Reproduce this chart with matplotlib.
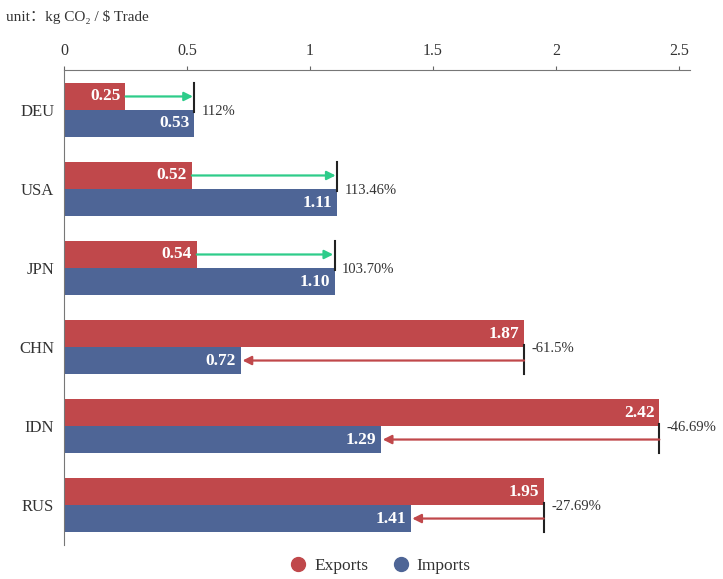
import matplotlib.pyplot as plt
from matplotlib.lines import Line2D

plt.rcParams["font.family"] = ["Liberation Serif", "DejaVu Serif"]

countries = ["DEU", "USA", "JPN", "CHN", "IDN", "RUS"]
exports = [0.25, 0.52, 0.54, 1.87, 2.42, 1.95]
imports = [0.53, 1.11, 1.10, 0.72, 1.29, 1.41]
change_labels = ["112%", "113.46%", "103.70%", "-61.5%", "-46.69%", "-27.69%"]

RED = "#C0484B"
BLUE = "#4E6596"
GREEN = "#2ECC8A"
TEXT = "#333333"

fig = plt.figure(figsize=(7.23, 5.79), dpi=100)
ax = fig.add_axes([0.0885, 0.0587, 0.866, 0.8204])

h = 0.342
y = list(range(len(countries)))
ax.barh([i - h / 2 for i in y], exports, height=h, color=RED)
ax.barh([i + h / 2 for i in y], imports, height=h, color=BLUE)

for i, (e, m, lab) in enumerate(zip(exports, imports, change_labels)):
    ax.text(e - 0.02, i - h / 2, f"{e:.2f}", ha="right", va="center",
            color="white", fontsize=12.5, fontweight="bold")
    ax.text(m - 0.02, i + h / 2, f"{m:.2f}", ha="right", va="center",
            color="white", fontsize=12.5, fontweight="bold")
    if m > e:
        # growth: arrow along export bar to the import value
        ax.annotate("", xy=(m, i - h / 2), xytext=(e, i - h / 2),
                    arrowprops=dict(arrowstyle="-|>", color=GREEN, lw=1.6,
                                    mutation_scale=13, shrinkA=0, shrinkB=1))
        ax.plot([m, m], [i - h, i + 0.03], color="#222222", lw=1.5)
        ax.text(m + 0.03, i + 0.02, lab, ha="left", va="center", color=TEXT, fontsize=10.5)
    else:
        ax.annotate("", xy=(m, i + h / 2), xytext=(e, i + h / 2),
                    arrowprops=dict(arrowstyle="-|>", color=RED, lw=1.6,
                                    mutation_scale=13, shrinkA=0, shrinkB=1))
        ax.plot([e, e], [i - 0.03, i + h], color="#222222", lw=1.5)
        ax.text(e + 0.03, i + 0.02, lab, ha="left", va="center", color=TEXT, fontsize=10.5)

ax.set_xlim(0, 2.545)
ax.set_ylim(5.506, -0.506)
ax.xaxis.tick_top()
ax.set_xticks([0, 0.5, 1, 1.5, 2, 2.5])
ax.set_xticklabels(["0", "0.5", "1", "1.5", "2", "2.5"])
ax.tick_params(axis="x", direction="out", length=3, color="#666666",
               labelsize=11.5, labelcolor=TEXT, pad=5)
ax.set_yticks(y)
ax.set_yticklabels(countries)
ax.tick_params(axis="y", length=0, labelsize=12, labelcolor=TEXT, pad=7)
for side in ["right", "bottom"]:
    ax.spines[side].set_visible(False)
ax.spines["top"].set_color("#777777")
ax.spines["left"].set_color("#777777")

fig.text(0.008, 0.97, "unit：kg CO₂ / \\$ Trade", ha="left", va="center",
         fontsize=11, color=TEXT, family=["Liberation Serif", "Noto Sans CJK SC", "DejaVu Serif"])

handles = [
    Line2D([], [], marker="o", linestyle="", markersize=10, color=RED, label="Exports"),
    Line2D([], [], marker="o", linestyle="", markersize=10, color=BLUE, label="Imports"),
]
fig.legend(handles=handles, loc="center", bbox_to_anchor=(0.527, 0.022), ncol=2,
           frameon=False, fontsize=12.5, handlelength=0.8, handletextpad=0.5,
           columnspacing=1.5, labelcolor=TEXT)

fig.savefig("out.png", dpi=100)
